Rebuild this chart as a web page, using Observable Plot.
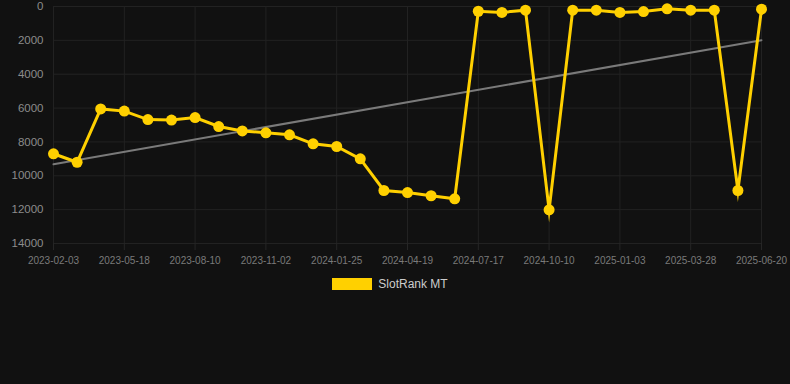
<!DOCTYPE html>
<html>
<head>
<meta charset="utf-8">
<script src="https://cdn.jsdelivr.net/npm/d3@7"></script>
<script src="https://cdn.jsdelivr.net/npm/@observablehq/plot@0.6"></script>
<style>
  html, body { margin: 0; padding: 0; background: #111111; }
  body { width: 790px; height: 384px; overflow: hidden; font-family: "Liberation Sans", Arial, sans-serif; }
  #legend { display: flex; justify-content: center; align-items: center; gap: 6px; margin-top: 8px; height: 16px; padding-right: 10px; }
  #legend .sw { width: 40px; height: 12px; background: #ffd000; }
  #legend .lb { font-size: 12px; color: #cccccc; }
</style>
</head>
<body>
<div id="chart"></div>
<div id="legend"><span class="sw"></span><span class="lb">SlotRank MT</span></div>
<script>
const dates = [
  "2023-02-03","2023-03-10","2023-04-14","2023-05-18","2023-06-15","2023-07-13",
  "2023-08-10","2023-09-07","2023-10-05","2023-11-02","2023-11-30","2023-12-28",
  "2024-01-25","2024-02-22","2024-03-21","2024-04-19","2024-05-17","2024-06-19",
  "2024-07-17","2024-08-14","2024-09-12","2024-10-10","2024-11-07","2024-12-06",
  "2025-01-03","2025-01-31","2025-02-28","2025-03-28","2025-04-25","2025-05-23",
  "2025-06-20"
];
const ranks = [
  8700, 9200, 6050, 6180, 6680, 6710,
  6560, 7090, 7350, 7460, 7580, 8110,
  8270, 9000, 10870, 10990, 11180, 11360,
  280, 350, 220, 12010, 220, 220,
  350, 300, 140, 220, 220, 10870,
  160
];
const trendDates = ["2023-02-03", "2025-06-20"];
const trendValues = [9320, 1990];
const xTickLabels = [
  "2023-02-03","2023-05-18","2023-08-10","2023-11-02","2024-01-25","2024-04-19",
  "2024-07-17","2024-10-10","2025-01-03","2025-03-28","2025-06-20"
];
const yTicks = [0, 2000, 4000, 6000, 8000, 10000, 12000, 14000];

const data = dates.map((d, i) => ({date: d, rank: ranks[i]}));
const trend = trendDates.map((d, i) => ({date: d, rank: trendValues[i]}));

const chart = Plot.plot({
  width: 790,
  height: 268,
  marginTop: 6,
  marginBottom: 25,
  marginLeft: 53,
  marginRight: 29,
  style: {background: "#111111", color: "#888888", fontFamily: "Liberation Sans, Arial, sans-serif"},
  x: {type: "point", domain: dates, range: [53, 761], padding: 0, round: false, label: null},
  y: {domain: [0, 14000], range: [6, 243], label: null},
  marks: [
    Plot.gridY(yTicks, {stroke: "#222222", strokeOpacity: 1}),
    Plot.gridX(xTickLabels, {stroke: "#222222", strokeOpacity: 1}),
    Plot.axisY(yTicks, {tickSize: 0, tickPadding: 10, fontSize: 11.5, fill: "#8c8c8c", tickFormat: d => String(d)}),
    Plot.axisX(xTickLabels, {tickSize: 7, tickPadding: 6, stroke: "#262626", fontSize: 10, fill: "#7a7a7a"}),
    Plot.line(trend, {x: "date", y: "rank", stroke: "#7a7a7a", strokeWidth: 2}),
    Plot.line(data, {x: "date", y: "rank", stroke: "#ffd000", strokeWidth: 3, strokeLinejoin: "miter", strokeMiterlimit: 10}),
    Plot.dot(data, {x: "date", y: "rank", r: 5.5, fill: "#ffd000"})
  ]
});
document.getElementById("chart").appendChild(chart);
</script>
</body>
</html>
